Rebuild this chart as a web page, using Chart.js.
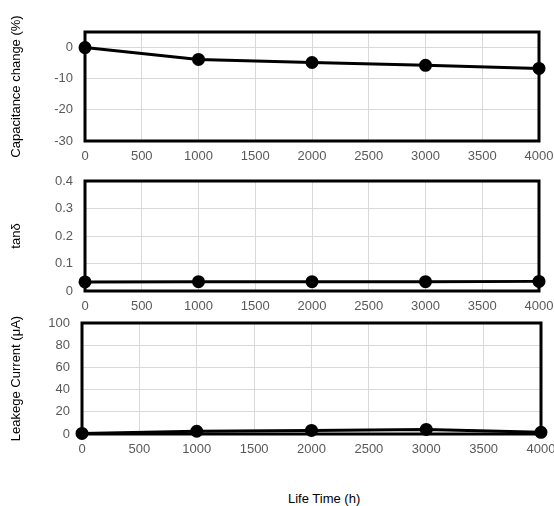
<!DOCTYPE html>
<html>
<head>
<meta charset="utf-8">
<script src="https://cdn.jsdelivr.net/npm/chart.js"></script>
<style>
	html, body { margin: 0; padding: 0; background: #fff; }
	#wrap { position: relative; width: 554px; height: 506px; }
	.box { position: absolute; left: 0; width: 554px; }
	#xtitle { position: absolute; left: 288px; top: 491px; font: 13px 'Liberation Sans'; color: #000; white-space: nowrap; }
</style>
</head>
<body>
<div id="wrap">
	<div class="box" id="b1" style="top:0;height:170px"><canvas id="c1"></canvas></div>
	<div class="box" id="b2" style="top:165px;height:150px"><canvas id="c2"></canvas></div>
	<div class="box" id="b3" style="top:310px;height:160px"><canvas id="c3"></canvas></div>
	<div id="xtitle">Life Time (h)</div>
</div>
<script>
// data
const hours = [0, 1000, 2000, 3000, 4000]
const capChange = [0, -3.8, -4.8, -5.7, -6.7]
const tanDelta = [0.033, 0.034, 0.034, 0.034, 0.035]
const leakage = [0.5, 2.5, 3.2, 4.1, 1.5]

const tickFont = { family: 'Liberation Sans', size: 13 }
const titleFont = { family: 'Liberation Sans', size: 13 }

// thick frame round the plot area
const frame = {
	id: 'frame',
	beforeDatasetsDraw(chart) {
		const a = chart.chartArea
		const ctx = chart.ctx
		ctx.save()
		ctx.strokeStyle = '#000'
		ctx.lineWidth = 3
		ctx.strokeRect(a.left, a.top, a.right - a.left, a.bottom - a.top)
		ctx.restore()
	},
}

function makeChart(id, values, y, geo) {
	const ctx = document.getElementById(id).getContext('2d')
	return new Chart(ctx, {
		type: 'line',
		data: {
			datasets: [
				{
					data: hours.map((h, i) => ({ x: h, y: values[i] })),
					borderColor: '#000',
					backgroundColor: '#000',
					borderWidth: 3,
					pointRadius: 5,
					pointHoverRadius: 5,
					clip: false,
				},
			],
		},
		options: {
			responsive: true,
			maintainAspectRatio: false,
			animation: false,
			layout: { padding: { top: geo.top, right: geo.right, left: 0, bottom: 0 } },
			plugins: { legend: { display: false }, tooltip: { enabled: false } },
			scales: {
				x: {
					type: 'linear',
					min: 0,
					max: 4000,
					ticks: {
						stepSize: 500,
						color: '#595959',
						font: tickFont,
						padding: 8,
						maxRotation: 0,
						autoSkip: false,
						callback: (v) => String(v),
					},
					grid: { color: '#d9d9d9', drawTicks: false },
					border: { display: false },
					afterFit(scale) {
						scale.height = geo.xHeight
						scale.paddingLeft = 0
						scale.paddingRight = 0
					},
				},
				y: {
					min: y.min,
					max: y.max,
					ticks: { stepSize: y.step, color: '#595959', font: tickFont, padding: 12 },
					grid: { color: '#d9d9d9', drawTicks: false },
					border: { display: false },
					title: { display: true, text: y.title, color: '#000', font: titleFont, padding: { top: geo.titlePad, bottom: 0 } },
					afterBuildTicks(scale) {
						if (y.keep) scale.ticks = scale.ticks.filter((t) => y.keep(t.value))
					},
					afterFit(scale) {
						scale.width = geo.yWidth
						scale.paddingTop = 0
						scale.paddingBottom = 0
					},
				},
			},
		},
		plugins: [frame],
	})
}

makeChart('c1', capChange,
	{ min: -30, max: 5, step: 10, title: 'Capacitance change (%)', keep: (v) => v % 10 === 0 },
	{ top: 32, right: 15, xHeight: 29, yWidth: 85, titlePad: 9 })

makeChart('c2', tanDelta,
	{ min: 0, max: 0.4, step: 0.1, title: 'tanδ' },
	{ top: 16, right: 15, xHeight: 24, yWidth: 85, titlePad: 9 })

makeChart('c3', leakage,
	{ min: 0, max: 100, step: 20, title: 'Leakege Current (μA)' },
	{ top: 13, right: 13, xHeight: 36, yWidth: 82, titlePad: 9 })
</script>
</body>
</html>
